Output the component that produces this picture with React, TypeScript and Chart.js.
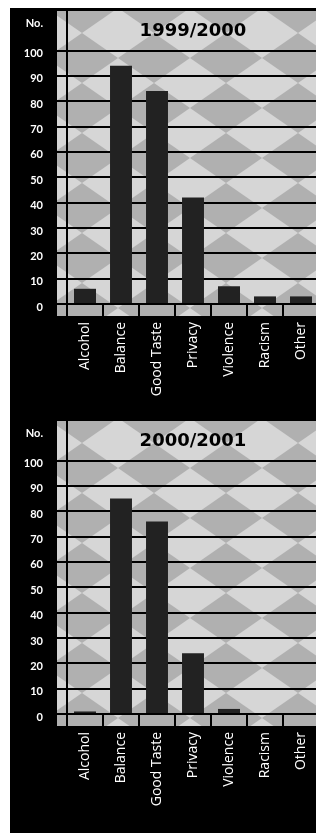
import React, { useEffect, useRef } from "react";
import { Chart, registerables } from "chart.js";

Chart.register(...registerables);

const categories = ["Alcohol", "Balance", "Good Taste", "Privacy", "Violence", "Racism", "Other"];
const values1999 = [6, 94, 84, 42, 7, 3, 3];
const values2000 = [1, 85, 76, 24, 2, 0, 0];
const yTickValues = [0, 10, 20, 30, 40, 50, 60, 70, 80, 90, 100];
const unitLabel = "No.";
const unitLabelValue = 112;
const yMax = 116;

function makePattern(): CanvasPattern | string {
  const c = document.createElement("canvas");
  c.width = 72;
  c.height = 50;
  const g = c.getContext("2d");
  if (!g) return "#c0c0c0";
  g.fillStyle = "#b0b0b0";
  g.fillRect(0, 0, 72, 50);
  g.fillStyle = "#d6d6d6";
  g.beginPath();
  g.moveTo(36, 0);
  g.lineTo(72, 25);
  g.lineTo(36, 50);
  g.lineTo(0, 25);
  g.closePath();
  g.fill();
  const p = g.createPattern(c, "repeat");
  return p || "#c0c0c0";
}

function BarChart({ title, values }: { title: string; values: number[] }) {
  const ref = useRef<HTMLCanvasElement | null>(null);
  useEffect(() => {
    if (!ref.current) return;
    const pattern = makePattern();
    const bgPlugin = {
      id: "texturedBg",
      beforeDraw(chart: any) {
        const { ctx, chartArea } = chart;
        ctx.save();
        ctx.fillStyle = pattern;
        ctx.fillRect(chartArea.left - 10, chartArea.top, chartArea.right - chartArea.left + 30, chartArea.bottom - chartArea.top + 12);
        ctx.restore();
      },
    };
    const titlePlugin = {
      id: "innerTitle",
      afterDraw(chart: any) {
        const { ctx, chartArea } = chart;
        ctx.save();
        ctx.font = 'bold 18px "DejaVu Sans"';
        ctx.fillStyle = "#000";
        ctx.textAlign = "center";
        ctx.textBaseline = "middle";
        ctx.fillText(title, (chartArea.left + chartArea.right) / 2, chartArea.top + 21);
        ctx.restore();
      },
    };
    const chart = new Chart(ref.current, {
      type: "bar",
      data: {
        labels: categories,
        datasets: [
          {
            data: values,
            backgroundColor: "#222222",
            borderWidth: 0,
            barPercentage: 0.61,
            categoryPercentage: 1,
          },
        ],
      },
      options: {
        animation: false,
        responsive: false,
        layout: { padding: { top: 2, left: 0, right: 0, bottom: 0 } },
        plugins: { legend: { display: false }, tooltip: { enabled: false }, title: { display: false } },
        scales: {
          x: {
            type: "category",
            afterFit(scale: any) {
              scale.height = 114;
              scale.paddingLeft = 0;
              scale.paddingRight = 0;
            },
            grid: { offset: true, drawOnChartArea: false, drawTicks: true, tickLength: 12, color: "#000", lineWidth: 2 },
            border: { display: true, color: "#000", width: 2 },
            ticks: {
              color: "#ffffff",
              font: { family: '"Open Sans"', size: 14 },
              minRotation: 90,
              maxRotation: 90,
              padding: 6,
              autoSkip: false,
            },
          },
          y: {
            type: "linear",
            min: 0,
            max: yMax,
            afterFit(scale: any) {
              scale.width = 57;
              scale.paddingTop = 0;
              scale.paddingBottom = 0;
            },
            afterBuildTicks(scale: any) {
              scale.ticks = [...yTickValues, unitLabelValue, yMax].map((v) => ({ value: v }));
            },
            grid: {
              color: (c: any) => (c.tick && c.tick.value === unitLabelValue ? "rgba(0,0,0,0)" : "#000"),
              lineWidth: 2,
              tickLength: 10,
              drawTicks: true,
            },
            border: { display: true, color: "#000", width: 2 },
            ticks: {
              color: "#ffffff",
              font: { family: "Lato", size: 11, weight: "bold" },
              padding: 14,
              labelOffset: 3,
              callback: (v: any) => (v === unitLabelValue ? unitLabel : v === yMax ? "" : String(v)),
            },
          },
        },
      },
      plugins: [bgPlugin, titlePlugin],
    } as any);
    return () => chart.destroy();
  }, [title, values]);
  return (
    <div style={{ width: 309, height: 410, position: "relative" }}>
      <canvas ref={ref} width={309} height={410} style={{ display: "block", width: 309, height: 410 }} />
    </div>
  );
}

export default function App() {
  return (
    <div
      style={{
        position: "absolute",
        left: 10,
        top: 8,
        width: 306,
        height: 825,
        overflow: "hidden",
        background: "#000",
      }}
    >
      <BarChart title="1999/2000" values={values1999} />
      <BarChart title="2000/2001" values={values2000} />
    </div>
  );
}
